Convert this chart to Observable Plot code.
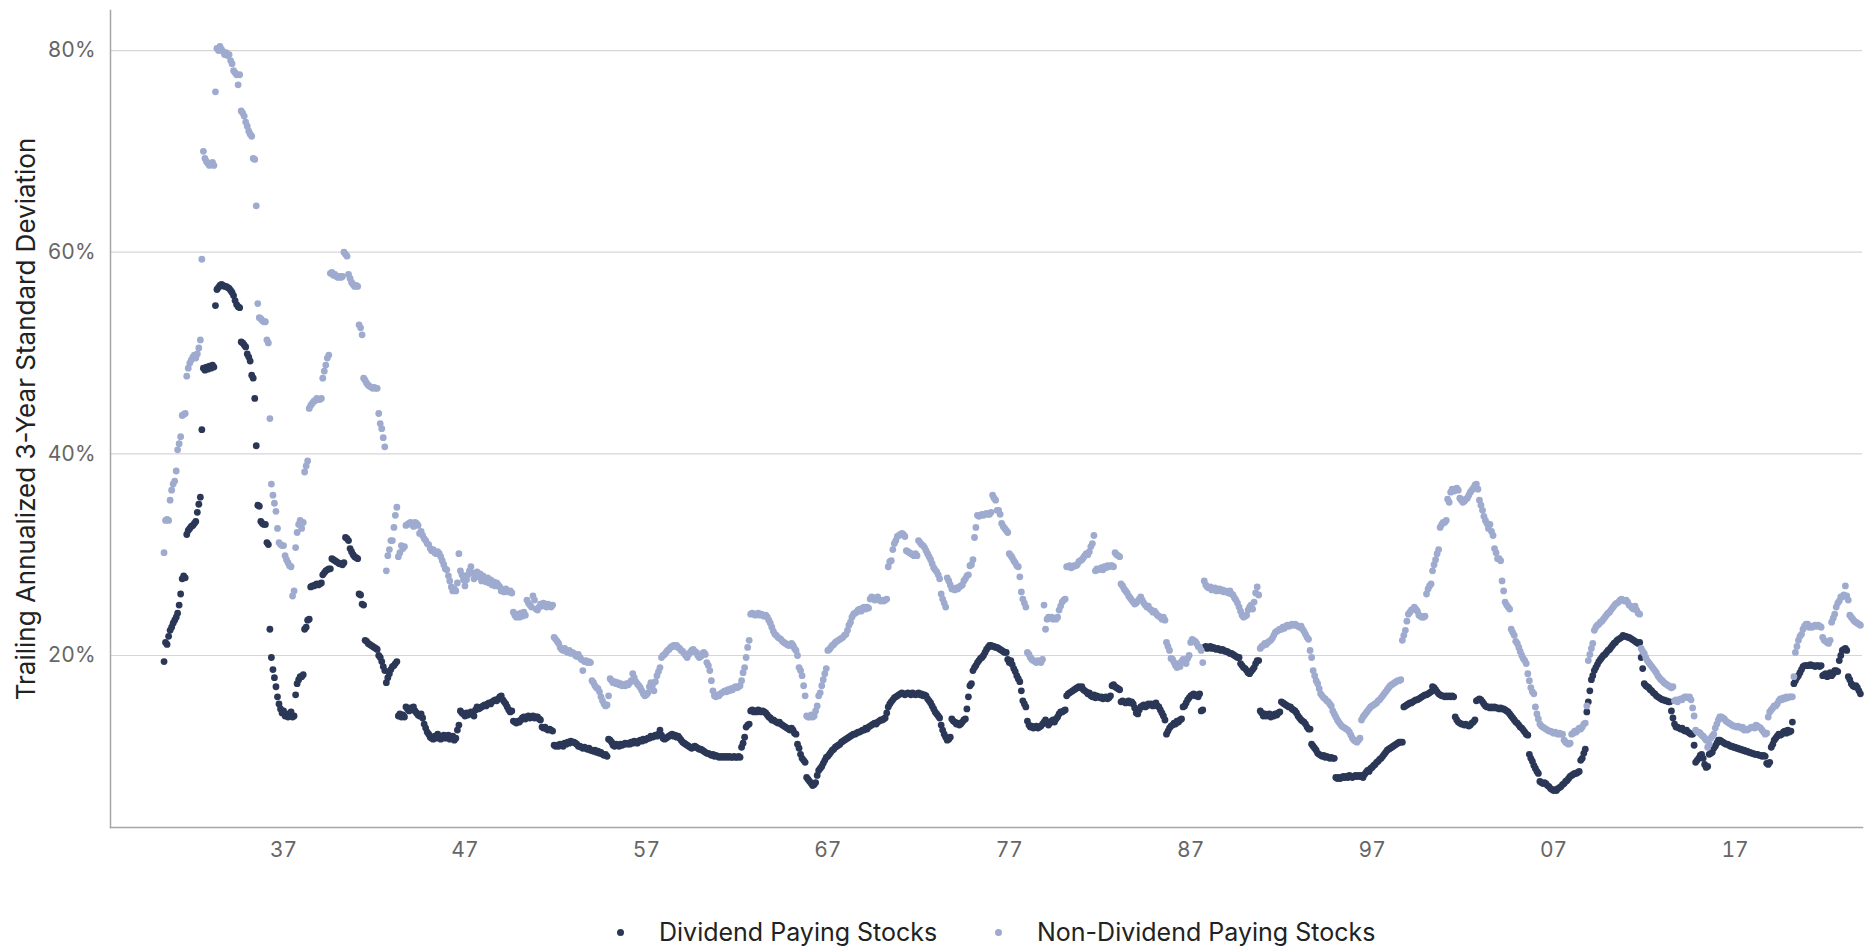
<!DOCTYPE html>
<html>
<head>
<meta charset="utf-8">
<script src="https://cdn.jsdelivr.net/npm/d3@7"></script>
<script src="https://cdn.jsdelivr.net/npm/@observablehq/plot@0.6"></script>
<style>
  html, body { margin: 0; padding: 0; background: #ffffff; }
  #chart { position: relative; width: 1872px; height: 947px; font-family: Inter, Roboto, "Noto Sans", sans-serif; }
  #legend { position: absolute; left: 0; top: 913px; width: 1872px; height: 38px; font-size: 25px; color: #222; }
  .item { position: absolute; top: 0; height: 38px; display: flex; align-items: center; white-space: nowrap; }
  .sw { width: 7px; height: 7px; border-radius: 50%; margin-right: 35px; flex: none; }
</style>
</head>
<body>
<div id="chart"><div id="legend"></div></div>
<script>
// ---- Data (monthly, trailing annualized 3-year standard deviation, %) ----
const startYear = 1930;   // first observation: June 1930
const startMonth = 5;     // 0-based month index (June)
const seriesNames = ["Dividend Paying Stocks", "Non-Dividend Paying Stocks"];
const seriesColors = ["#2b3756", "#9eabcf"];
const yTicks = [20, 40, 60, 80];
const xTickYears = [1937, 1947, 1957, 1967, 1977, 1987, 1997, 2007, 2017];
const yLabel = "Trailing Annualized 3-Year Standard Deviation";

const dividendPaying = [
  [19.4, 21.3, 21.1, 21.9, 22.5, 22.8, 23.2],
  [23.5, 23.8, 24.2, 25.0, 26.1, 27.6, 27.9, 27.7, 32.0, 32.4, 32.6, 32.8],
  [32.9, 33.1, 33.3, 34.2, 35.0, 35.7, 42.4, 48.5, 48.3, 48.6, 48.4, 48.7],
  [48.5, 48.8, 48.6, 54.7, 56.3, 56.5, 56.7, 56.8, 56.7, 56.6, 56.6, 56.5],
  [56.4, 56.2, 56.0, 55.7, 55.2, 54.8, 54.6, 54.5, 51.1, 51.0, 50.8, 50.6],
  [49.9, 49.6, 49.2, 47.8, 47.5, 45.5, 40.8, 34.9, 34.8, 33.3, 33.1, 33.0],
  [33.0, 31.2, 31.0, 22.6, 19.8, 18.6, 17.8, 16.9, 15.9, 15.2, 14.7, 14.3],
  [14.5, 14.0, 14.2, 13.9, 14.1, 14.4, 13.9, 14.0, 16.1, 17.2, 17.6, 17.9],
  [17.9, 18.1, 22.6, 22.8, 23.5, 23.6, 26.8, 26.9, 26.9, 27.0, 27.1, 27.0],
  [27.1, 27.2, 28.0, 28.2, 28.4, 28.5, 28.6, 28.6, 29.6, 29.5, 29.4, 29.3],
  [29.2, 29.1, 29.1, 29.0, 29.2, 31.7, 31.6, 31.4, 30.6, 30.3, 30.0, 29.8],
  [29.7, 29.6, 26.1, 26.0, 25.1, 25.0, 21.5, 21.4, 21.2, 21.1, 21.0, 20.9],
  [20.8, 20.7, 20.6, 20.0, 19.8, 19.4, 18.9, 18.5, 17.3, 17.8, 18.2, 18.6],
  [18.9, 19.0, 19.2, 19.4, 14.0, 14.2, 13.9, 14.1, 13.9, 14.9, 14.7, 14.5],
  [14.8, 14.6, 14.9, 14.5, 14.3, 14.1, 14.0, 14.2, 13.8, 13.2, 12.8, 12.4],
  [12.2, 11.9, 11.8, 11.7, 12.0, 11.8, 12.2, 12.0, 11.7, 11.9, 12.1, 11.8],
  [11.9, 12.1, 11.7, 11.8, 12.0, 11.6, 11.8, 12.6, 13.1, 14.5, 14.3, 14.2],
  [14.0, 14.3, 14.1, 14.2, 14.4, 14.3, 14.0, 14.6, 14.9, 14.7, 14.8, 14.9],
  [15.0, 15.1, 15.0, 15.2, 15.3, 15.2, 15.4, 15.5, 15.6, 15.5, 15.7, 15.9],
  [16.0, 15.6, 15.4, 15.2, 14.9, 14.6, 14.4, 14.5, 13.5, 13.4, 13.3, 13.5],
  [13.4, 13.6, 13.8, 13.9, 13.7, 13.9, 14.0, 13.8, 13.9, 14.0, 13.8, 13.9],
  [13.9, 13.7, 13.6, 12.9, 12.8, 12.9, 12.7, 12.6, 12.7, 12.6, 12.5, 11.1],
  [11.0, 11.1, 11.0, 11.2, 11.1, 11.0, 11.3, 11.2, 11.4, 11.3, 11.5, 11.4],
  [11.4, 11.3, 11.2, 11.0, 11.0, 10.9, 10.8, 10.9, 10.8, 10.7, 10.8, 10.6],
  [10.6, 10.5, 10.6, 10.4, 10.5, 10.3, 10.4, 10.2, 10.1, 10.2, 10.0, 11.7],
  [11.6, 11.4, 11.1, 11.0, 11.2, 11.1, 11.0, 11.2, 11.1, 11.2, 11.3, 11.2],
  [11.3, 11.2, 11.4, 11.3, 11.5, 11.4, 11.3, 11.5, 11.6, 11.5, 11.7, 11.6],
  [11.7, 11.8, 11.8, 12.0, 11.9, 12.0, 12.1, 12.0, 12.2, 12.6, 12.1, 11.8],
  [11.7, 11.8, 11.9, 12.0, 12.1, 12.2, 12.0, 12.1, 11.9, 12.0, 11.8, 11.6],
  [11.4, 11.3, 11.2, 11.1, 11.0, 10.9, 10.8, 10.9, 11.0, 10.9, 10.8, 10.7],
  [10.7, 10.6, 10.5, 10.4, 10.3, 10.3, 10.2, 10.1, 10.2, 10.0, 10.1, 10.0],
  [9.9, 10.0, 9.9, 10.0, 9.9, 10.0, 9.9, 10.0, 9.9, 9.9, 10.0, 9.9],
  [9.9, 10.0, 9.9, 10.9, 11.3, 11.9, 12.9, 13.1, 13.2, 14.5, 14.6, 14.4],
  [14.5, 14.4, 14.6, 14.5, 14.4, 14.5, 14.4, 14.3, 14.1, 13.9, 13.8, 13.6],
  [13.6, 13.5, 13.4, 13.3, 13.4, 13.2, 13.1, 13.0, 12.9, 12.8, 12.7, 12.6],
  [12.8, 12.6, 12.3, 12.2, 11.2, 10.8, 10.2, 9.8, 9.6, 9.4, 7.9, 7.7],
  [7.5, 7.3, 7.1, 7.2, 7.4, 8.1, 8.6, 8.8, 9.0, 9.3, 9.6, 9.9],
  [10.0, 10.2, 10.4, 10.6, 10.7, 10.9, 11.0, 11.1, 11.2, 11.4, 11.5, 11.6],
  [11.7, 11.8, 11.9, 12.0, 12.1, 12.2, 12.2, 12.3, 12.4, 12.4, 12.5, 12.6],
  [12.6, 12.8, 12.7, 12.9, 13.0, 13.1, 13.2, 13.3, 13.2, 13.4, 13.5, 13.6],
  [13.6, 13.7, 13.8, 14.3, 14.9, 15.2, 15.4, 15.6, 15.8, 15.9, 16.0, 16.1],
  [16.2, 16.3, 16.2, 16.1, 16.2, 16.3, 16.2, 16.1, 16.3, 16.2, 16.1, 16.2],
  [16.3, 16.1, 16.2, 16.0, 16.1, 16.0, 15.7, 15.5, 15.3, 15.0, 14.7, 14.4],
  [14.2, 14.0, 13.8, 13.1, 12.6, 12.2, 11.9, 11.6, 11.7, 11.9, 13.7, 13.5],
  [13.4, 13.2, 13.3, 13.1, 13.2, 13.4, 13.6, 13.7, 14.7, 15.9, 17.0, 17.2],
  [18.5, 18.8, 19.0, 19.3, 19.5, 19.7, 19.8, 20.0, 20.3, 20.6, 20.8, 21.0],
  [21.0, 20.9, 20.9, 20.8, 20.8, 20.7, 20.6, 20.5, 20.4, 20.3, 20.3, 19.6],
  [19.3, 19.5, 19.1, 18.7, 18.4, 18.0, 17.7, 17.4, 16.5, 15.5, 15.2, 14.9],
  [13.5, 13.1, 12.9, 13.0, 12.8, 12.9, 13.0, 12.8, 12.9, 13.0, 13.2, 13.4],
  [13.6, 13.3, 13.1, 13.3, 13.5, 13.6, 13.4, 13.7, 13.9, 14.2, 14.4, 14.4],
  [14.5, 14.6, 16.0, 16.2, 16.3, 16.4, 16.5, 16.6, 16.7, 16.8, 16.9, 16.8],
  [16.9, 16.6, 16.5, 16.4, 16.2, 16.3, 16.0, 15.9, 16.1, 15.8, 16.0, 15.9],
  [15.8, 15.9, 15.7, 15.8, 15.9, 15.7, 15.8, 16.0, 17.0, 17.1, 16.9, 16.8],
  [16.7, 16.6, 15.4, 15.5, 15.4, 15.3, 15.4, 15.5, 15.3, 15.4, 15.2, 14.8],
  [14.3, 14.2, 14.6, 14.9, 15.0, 15.1, 14.9, 15.0, 15.2, 15.1, 15.2, 15.0],
  [15.1, 15.3, 15.0, 14.9, 14.6, 14.3, 14.0, 13.6, 12.2, 12.5, 12.8, 13.0],
  [13.1, 13.3, 13.2, 13.5, 13.4, 13.6, 13.7, 14.9, 15.0, 15.3, 15.6, 15.8],
  [16.0, 16.1, 16.2, 16.0, 16.1, 15.9, 16.2, 14.5, 14.6, 20.8, 20.9, 20.7],
  [20.8, 20.9, 20.7, 20.8, 20.7, 20.6, 20.7, 20.6, 20.5, 20.6, 20.5, 20.4],
  [20.4, 20.3, 20.2, 20.2, 20.1, 20.0, 19.9, 19.8, 19.8, 19.2, 19.0, 18.8],
  [18.7, 18.5, 18.3, 18.2, 18.4, 18.6, 18.8, 19.2, 19.5, 19.5, 14.5, 14.3],
  [14.0, 14.2, 14.0, 14.1, 14.2, 13.9, 14.1, 14.0, 14.2, 14.1, 14.3, 14.4],
  [15.4, 15.3, 15.2, 15.1, 15.0, 14.9, 14.9, 14.7, 14.6, 14.5, 14.3, 14.0],
  [13.8, 13.6, 13.5, 13.4, 13.2, 12.9, 12.7, 12.7, 11.2, 11.0, 10.8, 10.6],
  [10.3, 10.2, 10.1, 10.0, 10.1, 9.9, 10.0, 9.9, 9.8, 9.9, 9.8, 9.8],
  [7.9, 7.8, 7.9, 7.8, 7.9, 8.0, 7.9, 8.0, 7.9, 8.1, 8.0, 7.9],
  [8.0, 8.1, 8.0, 8.1, 8.0, 8.1, 7.9, 8.2, 8.4, 8.6, 8.5, 8.8],
  [8.9, 9.1, 9.2, 9.4, 9.5, 9.7, 9.8, 10.0, 10.2, 10.4, 10.6, 10.7],
  [10.8, 10.9, 11.0, 11.1, 11.2, 11.3, 11.4, 11.4, 11.4, 14.9, 15.0, 15.1],
  [15.2, 15.3, 15.3, 15.4, 15.5, 15.6, 15.6, 15.7, 15.8, 15.9, 16.0, 16.1],
  [16.1, 16.2, 16.3, 16.4, 16.9, 16.8, 16.6, 16.4, 16.2, 16.1, 16.0, 16.0],
  [15.9, 16.0, 15.9, 16.0, 15.9, 16.0, 15.9, 13.9, 13.6, 13.4, 13.3, 13.2],
  [13.2, 13.1, 13.2, 13.1, 13.0, 13.1, 13.3, 13.4, 13.6, 15.5, 15.6, 15.7],
  [15.6, 15.4, 15.2, 15.0, 14.9, 14.9, 14.8, 14.9, 14.8, 14.9, 14.8, 14.8],
  [14.7, 14.8, 14.7, 14.7, 14.6, 14.5, 14.4, 14.2, 14.0, 13.8, 13.6, 13.4],
  [13.3, 13.1, 12.9, 12.8, 12.6, 12.4, 12.2, 12.1, 10.2, 9.8, 9.5, 9.1],
  [8.8, 8.5, 8.3, 7.5, 7.4, 7.3, 7.4, 7.3, 7.1, 7.0, 6.8, 6.7],
  [6.6, 6.7, 6.6, 6.8, 6.9, 7.0, 7.2, 7.3, 7.5, 7.6, 7.8, 8.0],
  [8.1, 8.2, 8.3, 8.3, 8.4, 8.5, 9.6, 9.8, 10.3, 10.7, 14.4, 15.4],
  [16.5, 17.6, 18.0, 18.5, 18.8, 19.1, 19.4, 19.6, 19.8, 20.0, 20.1, 20.3],
  [20.5, 20.6, 20.8, 21.0, 21.2, 21.3, 21.5, 21.6, 21.7, 21.8, 22.0, 21.9],
  [21.9, 21.8, 21.8, 21.7, 21.6, 21.5, 21.4, 21.3, 21.2, 21.3, 19.8, 18.7],
  [17.2, 17.0, 16.9, 16.8, 16.6, 16.5, 16.3, 16.2, 16.0, 15.9, 15.8, 15.7],
  [15.6, 15.6, 15.5, 15.5, 15.4, 15.4, 14.5, 13.8, 13.2, 12.9, 12.9, 12.8],
  [12.7, 12.8, 12.6, 12.5, 12.6, 12.4, 12.3, 12.2, 12.2, 11.1, 9.4, 9.6],
  [9.8, 10.1, 10.2, 9.8, 9.2, 8.9, 9.0, 10.2, 10.3, 10.4, 10.8, 11.0],
  [11.3, 11.6, 11.6, 11.5, 11.4, 11.3, 11.2, 11.2, 11.1, 11.0, 11.0, 10.9],
  [10.9, 10.8, 10.8, 10.7, 10.7, 10.6, 10.6, 10.5, 10.5, 10.4, 10.4, 10.3],
  [10.3, 10.2, 10.2, 10.2, 10.1, 10.1, 10.0, 10.1, 10.0, 9.3, 9.2, 9.4],
  [10.9, 11.2, 11.6, 11.8, 12.0, 12.2, 12.1, 12.2, 12.4, 12.5, 12.3, 12.6],
  [12.4, 12.5, 13.4, 17.2, 17.5, 17.8, 18.0, 18.3, 18.6, 18.9, 19.0, 19.0],
  [19.0, 19.0, 19.1, 19.0, 19.0, 18.9, 19.0, 19.0, 18.9, 19.0, 18.0, 18.1],
  [18.2, 17.9, 18.0, 18.3, 18.0, 18.2, 18.5, 18.5, 18.4, 19.5, 20.0, 20.5],
  [20.6, 20.7, 20.5, 17.9, 17.6, 17.2, 17.0, 16.9, 17.0, 16.8, 16.5, 16.2]
];

const nonDividendPaying = [
  [30.2, 33.4, 33.5, 33.4, 35.4, 36.4, 37.0],
  [37.3, 38.3, 40.4, 41.0, 41.7, 43.8, 43.9, 44.0, 47.7, 48.5, 49.0, 49.3],
  [49.6, 49.8, 49.5, 49.9, 50.5, 51.3, 59.3, 70.0, 69.3, 69.0, 68.8, 68.6],
  [68.7, 68.9, 68.6, 75.9, 80.2, 80.0, 80.4, 80.1, 79.9, 79.6, 79.8, 79.5],
  [79.6, 79.0, 78.7, 78.0, 77.8, 77.6, 76.6, 77.6, 74.0, 73.8, 73.5, 72.9],
  [72.5, 72.0, 71.7, 71.5, 69.3, 69.2, 64.6, 54.9, 53.5, 53.4, 53.2, 53.1],
  [53.1, 51.3, 51.0, 43.5, 37.0, 35.9, 35.1, 34.3, 32.6, 31.2, 31.0, 30.9],
  [30.9, 29.9, 29.5, 29.2, 28.9, 28.8, 25.9, 26.4, 30.7, 32.2, 33.0, 33.4],
  [32.6, 33.2, 38.2, 38.8, 39.3, 44.5, 44.8, 45.0, 45.2, 45.3, 45.5, 45.4],
  [45.4, 45.5, 47.5, 48.2, 48.8, 49.5, 49.8, 57.9, 58.0, 57.7, 57.8, 57.6],
  [57.5, 57.6, 57.5, 57.6, 60.0, 59.8, 59.6, 57.8, 57.4, 57.0, 56.8, 56.6],
  [56.7, 56.6, 52.8, 52.5, 51.8, 47.5, 47.3, 47.0, 46.8, 46.7, 46.6, 46.5],
  [46.6, 46.5, 46.5, 44.0, 43.0, 42.5, 41.6, 40.7, 28.4, 29.9, 30.5, 31.4],
  [31.4, 32.7, 33.9, 34.7, 29.8, 30.2, 30.9, 30.6, 30.8, 32.9, 33.0, 33.1],
  [33.2, 33.0, 32.8, 33.2, 33.1, 32.9, 32.1, 32.3, 31.9, 31.6, 31.4, 31.1],
  [31.0, 30.6, 30.4, 30.5, 30.2, 30.1, 30.3, 30.1, 29.8, 29.4, 29.0, 28.6],
  [28.5, 27.9, 27.4, 26.8, 26.4, 26.6, 26.4, 27.2, 30.1, 28.4, 28.0, 27.5],
  [26.9, 27.5, 28.0, 28.4, 28.8, 28.2, 27.6, 27.9, 28.3, 27.8, 28.1, 27.4],
  [27.9, 27.6, 27.3, 27.7, 27.2, 27.5, 27.0, 27.3, 26.9, 27.2, 27.0, 26.8],
  [26.4, 26.5, 26.3, 26.6, 26.4, 26.3, 26.4, 26.2, 24.3, 24.0, 23.8, 24.1],
  [23.8, 24.2, 23.9, 24.3, 24.0, 25.5, 25.2, 25.0, 24.8, 25.9, 25.5, 24.6],
  [24.5, 24.8, 25.1, 24.9, 25.2, 25.0, 24.8, 25.1, 24.9, 24.8, 25.0, 21.8],
  [21.6, 21.4, 21.2, 20.8, 20.6, 20.5, 20.7, 20.4, 20.3, 20.5, 20.2, 20.3],
  [20.2, 20.0, 19.9, 20.1, 19.8, 19.6, 18.5, 19.4, 19.5, 19.3, 19.4, 19.3],
  [17.5, 17.3, 17.0, 16.8, 16.7, 16.4, 15.9, 15.5, 15.2, 15.0, 15.1, 16.0],
  [17.7, 17.5, 17.3, 17.4, 17.2, 17.3, 17.1, 17.2, 17.0, 17.1, 17.0, 17.2],
  [17.1, 17.3, 17.5, 18.2, 17.8, 17.4, 17.2, 17.0, 16.8, 16.5, 16.2, 16.0],
  [16.1, 16.3, 16.9, 17.3, 17.0, 16.5, 17.4, 18.0, 18.4, 18.8, 19.8, 20.0],
  [20.1, 20.3, 20.5, 20.6, 20.8, 20.9, 21.0, 20.9, 21.0, 20.8, 20.7, 20.5],
  [20.4, 20.2, 20.0, 19.8, 20.1, 20.3, 20.5, 20.6, 20.4, 20.3, 20.0, 19.8],
  [19.9, 20.2, 20.3, 20.1, 19.3, 19.0, 18.5, 17.5, 16.5, 16.0, 15.9, 16.1],
  [16.0, 16.2, 16.3, 16.4, 16.5, 16.4, 16.6, 16.5, 16.7, 16.6, 16.8, 16.9],
  [16.8, 16.9, 17.0, 17.5, 18.3, 18.8, 19.8, 20.8, 21.5, 24.1, 24.2, 24.1],
  [24.0, 24.1, 24.2, 24.0, 24.1, 24.0, 23.9, 24.0, 23.8, 23.5, 23.2, 22.8],
  [22.4, 22.1, 22.0, 21.8, 21.7, 21.6, 21.4, 21.3, 21.2, 21.1, 21.0, 21.0],
  [21.2, 21.0, 20.7, 20.5, 20.0, 18.8, 18.5, 18.0, 17.0, 16.0, 14.0, 13.9],
  [13.9, 14.1, 13.9, 14.0, 14.5, 15.0, 16.0, 16.3, 17.0, 17.6, 18.2, 18.7],
  [20.5, 20.6, 20.8, 21.0, 21.1, 21.3, 21.4, 21.5, 21.6, 21.7, 21.8, 22.0],
  [22.1, 22.5, 23.0, 23.3, 23.8, 24.1, 24.2, 24.3, 24.5, 24.6, 24.4, 24.7],
  [24.8, 24.6, 24.8, 24.7, 25.6, 25.8, 25.7, 25.5, 25.6, 25.8, 25.5, 25.4],
  [25.5, 25.4, 25.5, 25.6, 28.8, 29.3, 29.4, 30.5, 31.1, 31.4, 31.8, 31.9],
  [32.0, 32.1, 32.0, 31.8, 30.4, 30.3, 30.2, 30.1, 30.0, 29.9, 30.1, 29.9],
  [31.4, 31.2, 31.0, 30.9, 30.7, 30.4, 30.1, 29.8, 29.5, 29.1, 28.7, 28.5],
  [28.3, 28.0, 27.6, 26.1, 25.6, 25.2, 24.8, 27.7, 27.4, 27.0, 26.6, 26.6],
  [26.5, 26.7, 26.6, 26.8, 26.9, 27.0, 27.4, 27.6, 27.9, 28.0, 28.9, 29.0],
  [29.5, 31.7, 32.7, 33.9, 33.8, 33.9, 34.0, 33.9, 34.0, 34.1, 34.0, 34.0],
  [34.2, 35.9, 35.6, 35.4, 34.4, 34.4, 34.0, 33.1, 32.8, 32.6, 32.4, 32.2],
  [30.1, 29.9, 29.7, 29.4, 29.2, 28.9, 28.8, 27.8, 26.3, 25.6, 25.2, 24.8],
  [20.3, 20.1, 19.8, 19.6, 19.5, 19.4, 19.3, 19.5, 19.4, 19.3, 19.6, 25.0],
  [22.6, 23.6, 23.8, 23.7, 23.8, 23.6, 23.7, 23.6, 23.8, 24.5, 24.9, 25.3],
  [25.5, 25.6, 28.8, 28.8, 28.9, 28.7, 28.8, 28.9, 28.9, 29.0, 29.3, 29.4],
  [29.5, 29.7, 29.9, 30.1, 30.0, 30.3, 30.8, 31.1, 31.9, 28.4, 28.6, 28.5],
  [28.6, 28.7, 28.5, 28.8, 28.7, 28.9, 28.8, 28.9, 28.9, 28.8, 30.2, 30.0],
  [29.9, 29.8, 27.1, 26.9, 26.6, 26.4, 26.2, 25.9, 25.7, 25.5, 25.3, 25.1],
  [25.2, 25.4, 25.6, 25.8, 25.5, 25.2, 25.0, 24.8, 24.9, 24.6, 24.5, 24.3],
  [24.4, 24.2, 24.0, 23.9, 23.8, 23.6, 23.8, 23.5, 21.3, 20.9, 20.5, 19.7],
  [19.6, 19.3, 19.0, 18.8, 19.2, 18.9, 19.4, 19.6, 19.5, 19.2, 19.7, 20.0],
  [21.3, 21.6, 21.5, 21.4, 21.2, 20.9, 20.8, 20.5, 19.3, 27.4, 27.0, 26.8],
  [26.7, 26.8, 26.5, 26.6, 26.7, 26.4, 26.5, 26.6, 26.4, 26.5, 26.3, 26.4],
  [26.3, 26.2, 26.4, 26.1, 26.0, 25.7, 25.5, 25.2, 24.8, 24.4, 24.0, 23.8],
  [23.9, 24.0, 24.5, 24.8, 25.0, 24.6, 25.3, 26.2, 26.8, 26.0, 20.7, 20.9],
  [21.0, 21.2, 21.1, 21.3, 21.4, 21.5, 21.7, 22.0, 22.3, 22.4, 22.5, 22.6],
  [22.6, 22.8, 22.7, 22.9, 23.0, 22.9, 23.0, 23.1, 23.0, 23.1, 23.0, 22.9],
  [22.8, 22.9, 22.6, 22.4, 22.1, 21.8, 21.6, 20.5, 19.8, 18.5, 18.0, 17.5],
  [17.2, 16.7, 16.2, 16.0, 15.8, 15.7, 15.5, 15.4, 15.2, 15.0, 14.5, 14.2],
  [13.9, 13.6, 13.4, 13.2, 13.0, 12.9, 12.8, 12.7, 12.6, 12.4, 12.1, 11.8],
  [11.6, 11.5, 11.4, 11.6, 11.8, 13.6, 13.9, 14.1, 14.3, 14.5, 14.7, 14.9],
  [15.0, 15.1, 15.2, 15.3, 15.5, 15.6, 15.8, 16.0, 16.2, 16.4, 16.6, 16.8],
  [17.0, 17.1, 17.2, 17.3, 17.4, 17.5, 17.5, 17.6, 21.5, 22.0, 22.5, 23.4],
  [24.1, 24.3, 24.5, 24.6, 24.8, 24.6, 24.4, 24.0, 23.9, 23.8, 23.8, 23.9],
  [26.1, 26.6, 26.9, 27.1, 28.4, 29.0, 29.5, 30.1, 30.5, 32.7, 33.0, 33.2],
  [33.2, 33.4, 35.5, 35.2, 36.2, 36.5, 36.3, 36.4, 36.6, 36.4, 35.6, 35.4],
  [35.2, 35.3, 35.5, 35.6, 35.9, 36.2, 36.4, 36.6, 36.9, 37.0, 36.5, 35.4],
  [34.9, 34.4, 33.8, 33.4, 33.1, 32.6, 33.0, 32.3, 31.9, 30.6, 30.2, 29.6],
  [29.6, 29.4, 27.4, 26.4, 25.3, 25.0, 24.8, 24.6, 22.6, 22.3, 22.0, 21.4],
  [21.2, 20.8, 20.4, 20.0, 19.7, 19.5, 19.2, 18.2, 17.5, 16.8, 16.4, 16.2],
  [14.9, 14.2, 13.7, 13.2, 13.0, 12.9, 12.8, 12.7, 12.6, 12.5, 12.5, 12.4],
  [12.3, 12.4, 12.3, 12.2, 12.3, 12.2, 12.2, 11.6, 11.4, 11.3, 11.2, 11.3],
  [12.2, 12.3, 12.5, 12.4, 12.6, 12.8, 12.7, 12.9, 13.2, 13.3, 15.0, 19.5],
  [20.1, 20.7, 21.2, 22.5, 22.8, 23.0, 23.1, 23.3, 23.4, 23.6, 23.8, 24.0],
  [24.2, 24.3, 24.5, 24.7, 24.9, 25.1, 25.2, 25.3, 25.5, 25.6, 25.5, 25.4],
  [25.5, 25.3, 25.0, 24.9, 24.7, 24.6, 24.9, 24.5, 24.2, 24.1, 20.7, 20.4],
  [20.2, 19.8, 19.5, 19.3, 19.1, 18.9, 18.7, 18.5, 18.3, 18.0, 17.8, 17.6],
  [17.5, 17.3, 17.2, 17.1, 17.0, 16.9, 16.8, 16.9, 15.5, 15.6, 15.4, 15.6],
  [15.7, 15.6, 15.8, 15.9, 15.9, 15.8, 15.9, 15.6, 14.8, 14.0, 12.6, 12.4],
  [12.4, 12.3, 12.1, 12.0, 11.8, 11.6, 10.9, 11.2, 11.8, 12.0, 12.2, 12.8],
  [13.2, 13.6, 13.9, 13.9, 13.8, 13.7, 13.5, 13.4, 13.3, 13.2, 13.1, 13.0],
  [13.0, 12.9, 13.0, 12.9, 12.8, 12.9, 12.6, 12.7, 12.6, 12.7, 12.8, 12.9],
  [12.9, 12.8, 13.1, 13.0, 12.9, 12.8, 12.6, 12.4, 12.2, 12.3, 13.9, 14.4],
  [14.6, 14.8, 15.0, 15.0, 15.2, 15.5, 15.7, 15.6, 15.8, 15.7, 15.9, 15.8],
  [15.9, 15.9, 15.9, 17.9, 20.3, 20.9, 21.5, 21.9, 22.1, 22.6, 22.9, 23.1],
  [23.1, 22.8, 22.9, 22.8, 22.9, 23.0, 22.9, 23.0, 22.9, 22.8, 21.8, 21.5],
  [21.4, 21.3, 21.2, 21.5, 23.3, 23.7, 24.1, 24.8, 25.2, 25.4, 25.8, 25.8],
  [26.0, 26.9, 25.9, 25.5, 24.0, 23.8, 23.6, 23.4, 23.3, 23.2, 23.1, 23.0]
];

// ---- Build tidy table ----
function toRows(yearly, name) {
  const flat = yearly.flat();
  return flat.map((v, i) => ({
    date: new Date(Date.UTC(startYear, startMonth + i, 1)),
    value: v,
    series: name
  }));
}
const rows = [
  ...toRows(dividendPaying, seriesNames[0]),
  ...toRows(nonDividendPaying, seriesNames[1])
];

const xTicks = xTickYears.map(y => new Date(Date.UTC(y, 0, 1)));
const fontStack = "Inter, Roboto, 'Noto Sans', sans-serif";

const chart = Plot.plot({
  width: 1872,
  height: 890,
  marginLeft: 110,
  marginRight: 10,
  marginTop: 10,
  marginBottom: 63,
  style: { fontFamily: fontStack, background: "#ffffff", overflow: "visible" },
  x: { type: "utc", domain: [new Date(Date.UTC(1927, 5, 19)), new Date(Date.UTC(2024, 0, 12))] },
  y: { domain: [2.94, 83.97] },
  color: { domain: seriesNames, range: seriesColors },
  marks: [
    Plot.gridY(yTicks, { stroke: "#d6d6d6", strokeOpacity: 1, strokeWidth: 1.2 }),
    Plot.frame({ anchor: "left", stroke: "#a6a6a6", strokeWidth: 1.5 }),
    Plot.frame({ anchor: "bottom", stroke: "#a6a6a6", strokeWidth: 1.5 }),
    Plot.axisY(yTicks, {
      tickSize: 0, tickPadding: 15, tickFormat: d => d + "%",
      fontSize: 21, fill: "#666", label: null
    }),
    Plot.axisX(xTicks, {
      tickSize: 0, tickPadding: 15, tickFormat: d3.utcFormat("%y"),
      fontSize: 21, fill: "#666", label: null
    }),
    Plot.text([yLabel], {
      frameAnchor: "left", dx: -84, rotate: -90, fontSize: 26, fill: "#222",
      textAnchor: "middle", lineAnchor: "middle"
    }),
    Plot.dot(rows, { x: "date", y: "value", fill: "series", r: 3.4, stroke: null })
  ]
});
document.getElementById("chart").prepend(chart);

// ---- Legend (below the SVG) ----
const legend = document.getElementById("legend");
const lefts = [617, 995];
seriesNames.forEach((name, i) => {
  const item = document.createElement("div");
  item.className = "item";
  item.style.left = lefts[i] + "px";
  const sw = document.createElement("span");
  sw.className = "sw";
  sw.style.background = seriesColors[i];
  const label = document.createElement("span");
  label.textContent = name;
  item.append(sw, label);
  legend.append(item);
});
</script>
</body>
</html>
